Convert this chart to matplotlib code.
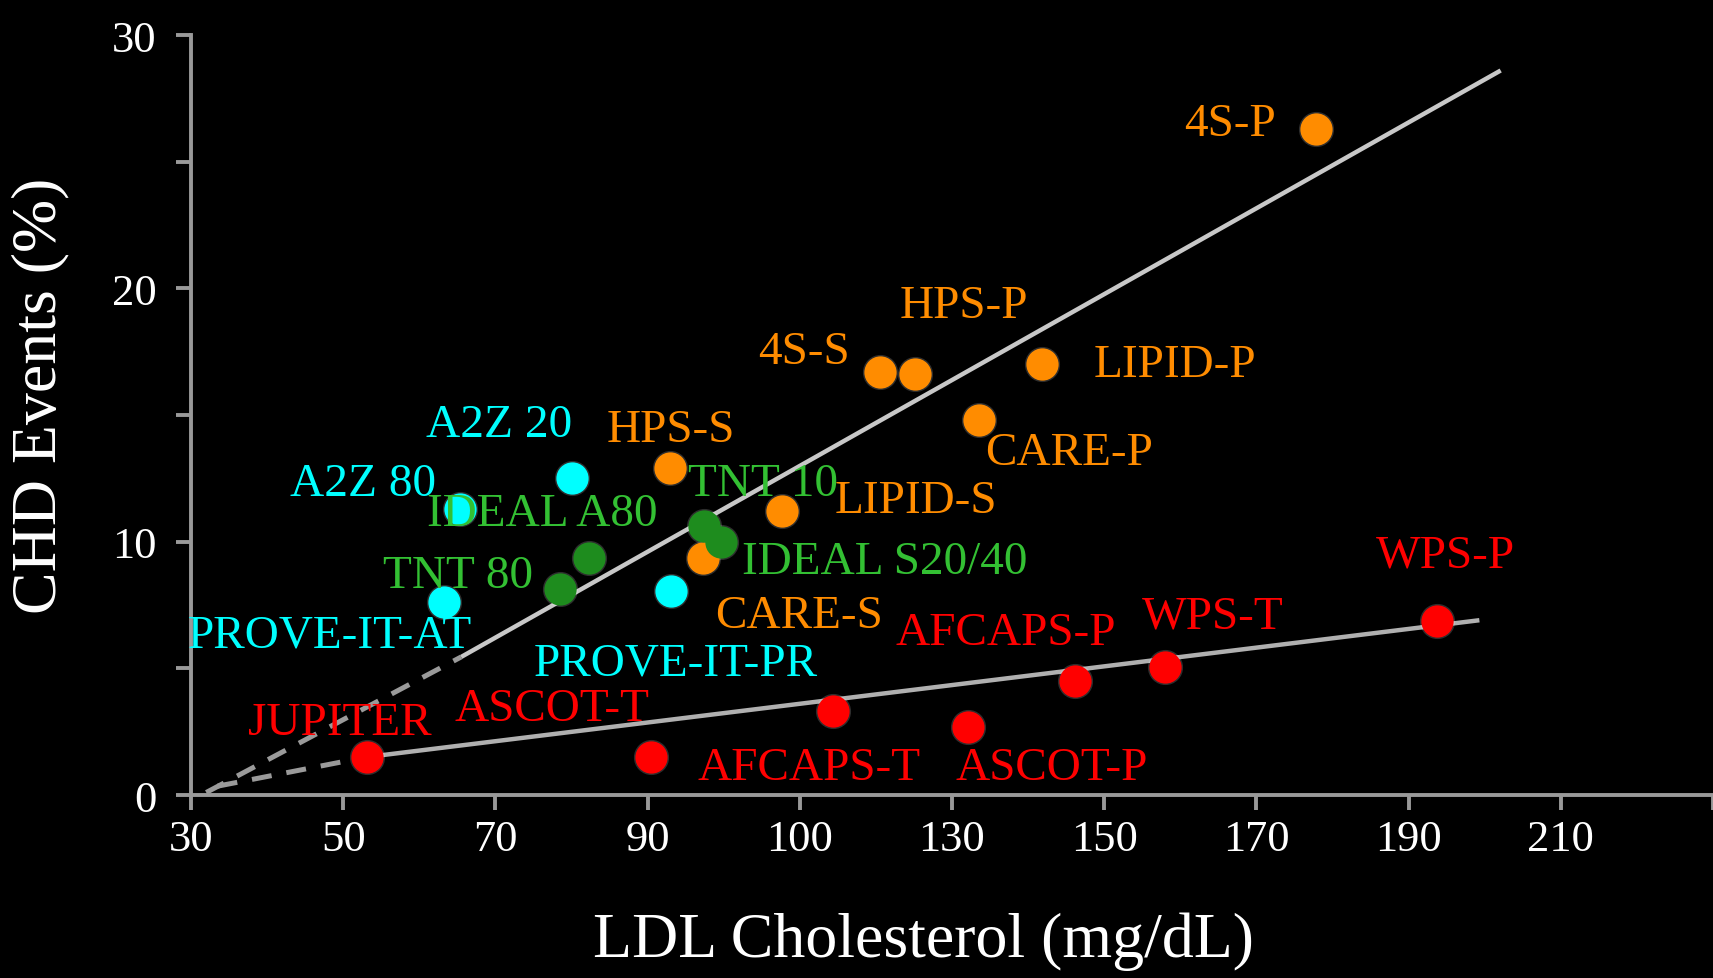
import matplotlib
matplotlib.use("Agg")
import matplotlib.pyplot as plt

# ---- data ----
names = ["4S-P", "HPS-P", "4S-S", "LIPID-P", "CARE-P", "HPS-S", "LIPID-S", "CARE-S",
         "TNT 10", "IDEAL S20/40", "IDEAL A80", "TNT 80",
         "A2Z 20", "A2Z 80", "PROVE-IT-AT", "PROVE-IT-PR",
         "JUPITER", "ASCOT-T", "AFCAPS-T", "ASCOT-P", "AFCAPS-P", "WPS-T", "WPS-P"]
ldl = [177.8, 125.2, 120.6, 141.8, 133.5, 93.0, 107.6, 97.3,
       97.4, 99.7, 82.3, 78.5,
       80.1, 65.4, 63.2, 93.1,
       53.1, 90.4, 114.3, 132.1, 146.1, 158.0, 193.7]
chd = [26.3, 16.6, 16.7, 17.0, 14.8, 12.9, 11.2, 9.35,
       10.6, 10.0, 9.35, 8.15,
       12.5, 11.3, 7.6, 8.06,
       1.5, 1.5, 3.3, 2.7, 4.5, 5.04, 6.85]
group = ["orange"] * 8 + ["green"] * 4 + ["cyan"] * 4 + ["red"] * 7

# label anchor positions (data coords, centre of text)
label_x = [166.5, 131.5, 110.5, 159.3, 145.4, 93.1, 125.2, 109.9,
           105.2, 121.1, 76.1, 65.1,
           70.5, 52.6, 48.2, 93.7,
           49.5, 77.5, 111.2, 143.1, 137.1, 164.2, 194.8]
label_y = [26.5, 19.3, 17.5, 17.0, 13.5, 14.4, 11.6, 7.06,
           12.3, 9.2, 11.1, 8.65,
           14.6, 12.3, 6.32, 5.2,
           2.87, 3.4, 1.06, 1.06, 6.4, 7.06, 9.47]

# regression lines (end points)
upper_dash_x = [32.0, 65.5]
upper_dash_y = [0.1, 5.45]
upper_x = [65.5, 202.1]
upper_y = [5.45, 28.6]
lower_dash_x = [33.5, 53.1]
lower_dash_y = [0.35, 1.5]
lower_x = [53.1, 199.3]
lower_y = [1.5, 6.9]

xtick_vals = [30, 50, 70, 90, 110, 130, 150, 170, 190, 210, 230]
xtick_labels = ["30", "50", "70", "90", "100", "130", "150", "170", "190", "210", ""]
ytick_vals = [0, 5, 10, 15, 20, 25, 30]
ytick_labels = ["0", "", "10", "", "20", "", "30"]

marker_col = {"orange": "#ff8c00", "green": "#1e8c1e", "cyan": "#00ffff", "red": "#ff0000"}
text_col = {"orange": "#ff8c00", "green": "#33c033", "cyan": "#00ffff", "red": "#ff0000"}

plt.rcParams["font.family"] = ["Liberation Serif", "DejaVu Serif"]

fig = plt.figure(figsize=(17.13, 9.79), dpi=100, facecolor="black")
ax = fig.add_axes([0.1115, 0.1869, 0.8885, 0.7763])
ax.set_facecolor("black")
ax.set_xlim(30, 229.8)
ax.set_ylim(0, 30)

spine_col = "#999999"
for s in ["top", "right"]:
    ax.spines[s].set_visible(False)
for s in ["left", "bottom"]:
    ax.spines[s].set_color(spine_col)
    ax.spines[s].set_linewidth(2.8)

ax.set_xticks(xtick_vals)
ax.set_xticklabels(xtick_labels)
ax.set_yticks(ytick_vals)
ax.set_yticklabels(ytick_labels)
ax.tick_params(axis="both", colors=spine_col, width=2.8, length=11, labelcolor="white",
               labelsize=32, direction="out")
ax.tick_params(axis="y", pad=14)
ax.tick_params(axis="x", pad=6)

# lines
ax.plot(upper_dash_x, upper_dash_y, color="#9a9a9a", lw=3.6, ls=(0, (4, 3)), zorder=2)
ax.plot(upper_x, upper_y, color="#c8c8c8", lw=3.2, zorder=2, solid_capstyle="butt")
ax.plot(lower_dash_x, lower_dash_y, color="#9a9a9a", lw=3.6, ls=(0, (4, 3)), zorder=2)
ax.plot(lower_x, lower_y, color="#b0b0b0", lw=3.2, zorder=2, solid_capstyle="butt")

# markers
for xi, yi, g in zip(ldl, chd, group):
    ax.scatter([xi], [yi], s=640, color="white", alpha=0.18, linewidths=0, zorder=3)
    ax.scatter([xi], [yi], s=540, color=marker_col[g], linewidths=0, zorder=4)

# labels
for n, lx, ly, g in zip(names, label_x, label_y, group):
    ax.text(lx, ly, n, color=text_col[g], fontsize=34, ha="center", va="center", zorder=5)

fig.text(0.0235, 0.596, "CHD Events (%)", rotation=90, color="white", fontsize=46,
         ha="center", va="center")
fig.text(0.539, 0.038, "LDL Cholesterol (mg/dL)", color="white", fontsize=46,
         ha="center", va="center")

fig.savefig("out.png", dpi=100, facecolor="black")
